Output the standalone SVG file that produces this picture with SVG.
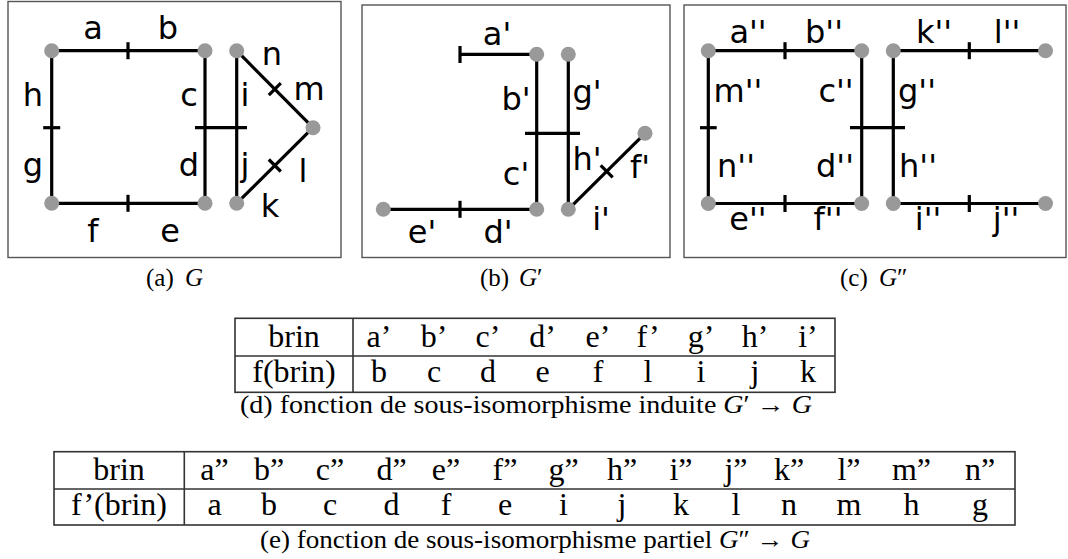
<svg xmlns="http://www.w3.org/2000/svg" width="1068" height="559" viewBox="0 0 1068 559">
<style>
.frame{fill:none;stroke:#555;stroke-width:1.4}
.e{stroke:#000;stroke-width:3.2;fill:none}
.v{fill:#999}
.lbl{font-family:"DejaVu Sans",sans-serif;font-size:32px;fill:#000;text-anchor:middle}
.tb{font-family:"Liberation Serif",serif;font-size:32px;fill:#000;text-anchor:middle}
.cap{font-family:"Liberation Serif",serif;font-size:25px;fill:#000}
.grid{fill:none;stroke:#333;stroke-width:1.6}
</style>
<rect width="1068" height="559" fill="#fff"/>

<!-- Panel (a) G -->
<rect class="frame" x="8" y="1.5" width="333" height="256"/>
<g id="connectors-a">
<line class="e" x1="51.7" y1="50.7" x2="205" y2="50.7"/>
<line class="e" x1="128" y1="42.2" x2="128" y2="59.2"/>
<line class="e" x1="51.7" y1="50.7" x2="51.7" y2="203.3"/>
<line class="e" x1="43.2" y1="127.7" x2="60.2" y2="127.7"/>
<line class="e" x1="51.7" y1="203.3" x2="205" y2="203.3"/>
<line class="e" x1="128" y1="194.8" x2="128" y2="211.8"/>
<line class="e" x1="205" y1="50.7" x2="205" y2="203.3"/>
<line class="e" x1="236.7" y1="50.7" x2="236.7" y2="203.3"/>
<line class="e" x1="195" y1="127.7" x2="247" y2="127.7"/>
<line class="e" x1="236.7" y1="50.7" x2="313" y2="127.7"/>
<line class="e" x1="268.8" y1="95.2" x2="280.8" y2="83.2"/>
<line class="e" x1="236.7" y1="203.3" x2="313" y2="127.7"/>
<line class="e" x1="268.8" y1="159.5" x2="280.8" y2="171.5"/>
</g>
<g id="a-v1"><circle class="v" cx="51.7" cy="50.7" r="7.5"/></g>
<g id="a-v2"><circle class="v" cx="205" cy="50.7" r="7.5"/></g>
<g id="a-v3"><circle class="v" cx="236.7" cy="50.7" r="7.5"/></g>
<g id="a-v4"><circle class="v" cx="313" cy="127.7" r="7.5"/></g>
<g id="a-v5"><circle class="v" cx="51.7" cy="203.3" r="7.5"/></g>
<g id="a-v6"><circle class="v" cx="205" cy="203.3" r="7.5"/></g>
<g id="a-v7"><circle class="v" cx="236.7" cy="203.3" r="7.5"/></g>
<g id="labels-a">
<text class="lbl" x="93" y="39">a</text>
<text class="lbl" x="168" y="39">b</text>
<text class="lbl" x="33" y="106">h</text>
<text class="lbl" x="189" y="106">c</text>
<text class="lbl" x="245" y="106">i</text>
<text class="lbl" x="272" y="65">n</text>
<text class="lbl" x="309" y="100">m</text>
<text class="lbl" x="33" y="176">g</text>
<text class="lbl" x="189" y="176">d</text>
<text class="lbl" x="245" y="176">j</text>
<text class="lbl" x="303" y="182">l</text>
<text class="lbl" x="270" y="217">k</text>
<text class="lbl" x="93" y="242">f</text>
<text class="lbl" x="170" y="242">e</text>
</g>

<!-- Panel (b) G' -->
<rect class="frame" x="362" y="5" width="308" height="252.5"/>
<g id="connectors-b">
<line class="e" x1="460" y1="54.3" x2="536.7" y2="54.3"/>
<line class="e" x1="460" y1="46" x2="460" y2="63"/>
<line class="e" x1="536.7" y1="54.3" x2="536.7" y2="209.3"/>
<line class="e" x1="568.3" y1="54.3" x2="568.3" y2="209.3"/>
<line class="e" x1="525" y1="133.3" x2="580" y2="133.3"/>
<line class="e" x1="383.3" y1="209.3" x2="536.7" y2="209.3"/>
<line class="e" x1="460" y1="200.8" x2="460" y2="217.8"/>
<line class="e" x1="568.3" y1="209.3" x2="645" y2="133.3"/>
<line class="e" x1="600.7" y1="165.3" x2="612.7" y2="177.3"/>
</g>
<g id="b-v1"><circle class="v" cx="536.7" cy="54.3" r="7.5"/></g>
<g id="b-v2"><circle class="v" cx="568.3" cy="54.3" r="7.5"/></g>
<g id="b-v3"><circle class="v" cx="645" cy="133.3" r="7.5"/></g>
<g id="b-v4"><circle class="v" cx="383.3" cy="209.3" r="7.5"/></g>
<g id="b-v5"><circle class="v" cx="536.7" cy="209.3" r="7.5"/></g>
<g id="b-v6"><circle class="v" cx="568.3" cy="209.3" r="7.5"/></g>
<g id="labels-b">
<text class="lbl" x="497" y="45">a'</text>
<text class="lbl" x="516" y="110">b'</text>
<text class="lbl" x="587" y="103">g'</text>
<text class="lbl" x="587" y="170">h'</text>
<text class="lbl" x="640" y="178">f'</text>
<text class="lbl" x="516" y="185">c'</text>
<text class="lbl" x="601" y="230">i'</text>
<text class="lbl" x="422" y="243">e'</text>
<text class="lbl" x="498" y="243">d'</text>
</g>

<!-- Panel (c) G'' -->
<rect class="frame" x="684" y="5" width="382" height="252.5"/>
<g id="connectors-c">
<line class="e" x1="708.3" y1="50.7" x2="861.7" y2="50.7"/>
<line class="e" x1="785" y1="42.2" x2="785" y2="59.2"/>
<line class="e" x1="893.3" y1="50.7" x2="1045.5" y2="50.7"/>
<line class="e" x1="969.3" y1="42.2" x2="969.3" y2="59.2"/>
<line class="e" x1="708.3" y1="203.5" x2="861.7" y2="203.5"/>
<line class="e" x1="785" y1="195" x2="785" y2="212"/>
<line class="e" x1="893.3" y1="203.5" x2="1045.5" y2="203.5"/>
<line class="e" x1="969.3" y1="195" x2="969.3" y2="212"/>
<line class="e" x1="708.3" y1="50.7" x2="708.3" y2="203.5"/>
<line class="e" x1="700" y1="127.7" x2="716.7" y2="127.7"/>
<line class="e" x1="861.7" y1="50.7" x2="861.7" y2="203.5"/>
<line class="e" x1="893.3" y1="50.7" x2="893.3" y2="203.5"/>
<line class="e" x1="850" y1="127.7" x2="905" y2="127.7"/>
</g>
<g id="c-v1"><circle class="v" cx="708.3" cy="50.7" r="7.5"/></g>
<g id="c-v2"><circle class="v" cx="861.7" cy="50.7" r="7.5"/></g>
<g id="c-v3"><circle class="v" cx="893.3" cy="50.7" r="7.5"/></g>
<g id="c-v4"><circle class="v" cx="1045.5" cy="50.7" r="7.5"/></g>
<g id="c-v5"><circle class="v" cx="708.3" cy="203.5" r="7.5"/></g>
<g id="c-v6"><circle class="v" cx="861.7" cy="203.5" r="7.5"/></g>
<g id="c-v7"><circle class="v" cx="893.3" cy="203.5" r="7.5"/></g>
<g id="c-v8"><circle class="v" cx="1045.5" cy="203.5" r="7.5"/></g>
<g id="labels-c">
<text class="lbl" x="748" y="43">a''</text>
<text class="lbl" x="824" y="43">b''</text>
<text class="lbl" x="934" y="43">k''</text>
<text class="lbl" x="1007" y="43">l''</text>
<text class="lbl" x="738" y="102">m''</text>
<text class="lbl" x="836" y="102">c''</text>
<text class="lbl" x="917" y="102">g''</text>
<text class="lbl" x="736" y="177">n''</text>
<text class="lbl" x="835" y="177">d''</text>
<text class="lbl" x="918" y="177">h''</text>
<text class="lbl" x="748" y="230">e''</text>
<text class="lbl" x="828" y="230">f''</text>
<text class="lbl" x="928" y="230">i''</text>
<text class="lbl" x="1006" y="230">j''</text>
</g>

<!-- Subfigure captions -->
<g id="captions-abc" class="cap">
<text x="146" y="286">(a)<tspan x="185" font-style="italic">G</tspan></text>
<text x="480" y="286">(b)<tspan x="519" font-style="italic">G</tspan>′</text>
<text x="840" y="286">(c)<tspan x="879" font-style="italic">G</tspan>″</text>
</g>

<!-- Table (d) -->
<g id="table-d">
<rect class="grid" x="235" y="318.3" width="600" height="74"/>
<line class="grid" x1="235" y1="356" x2="835" y2="356"/>
<line class="grid" x1="353" y1="318.3" x2="353" y2="392.3"/>
<g class="tb">
<text x="294" y="346.7">brin</text>
<text x="379" y="346.7">a’</text>
<text x="434" y="346.7">b’</text>
<text x="488" y="346.7">c’</text>
<text x="542.5" y="346.7">d’</text>
<text x="598" y="346.7">e’</text>
<text x="648" y="346.7">f’</text>
<text x="701" y="346.7">g’</text>
<text x="755" y="346.7">h’</text>
<text x="808" y="346.7">i’</text>
<text x="294" y="381.7">f(brin)</text>
<text x="379" y="381.7">b</text>
<text x="434" y="381.7">c</text>
<text x="488" y="381.7">d</text>
<text x="542.5" y="381.7">e</text>
<text x="598" y="381.7">f</text>
<text x="648" y="381.7">l</text>
<text x="701" y="381.7">i</text>
<text x="755" y="381.7">j</text>
<text x="808" y="381.7">k</text>
</g>
<text class="cap" x="240" y="413" textLength="572" lengthAdjust="spacingAndGlyphs">(d)  fonction de sous-isomorphisme induite <tspan font-style="italic">G</tspan>′ → <tspan font-style="italic">G</tspan></text>
</g>

<!-- Table (e) -->
<g id="table-e">
<rect class="grid" x="54" y="451.7" width="961" height="73.3"/>
<line class="grid" x1="54" y1="489" x2="1015" y2="489"/>
<line class="grid" x1="184.3" y1="451.7" x2="184.3" y2="525"/>
<g class="tb">
<text x="119" y="479.5">brin</text>
<text x="214.5" y="479.5">a”</text>
<text x="269" y="479.5">b”</text>
<text x="330" y="479.5">c”</text>
<text x="391.5" y="479.5">d”</text>
<text x="446" y="479.5">e”</text>
<text x="505" y="479.5">f”</text>
<text x="563.5" y="479.5">g”</text>
<text x="622" y="479.5">h”</text>
<text x="681" y="479.5">i”</text>
<text x="736" y="479.5">j”</text>
<text x="789" y="479.5">k”</text>
<text x="849" y="479.5">l”</text>
<text x="911.5" y="479.5">m”</text>
<text x="980" y="479.5">n”</text>
<text x="119" y="514.7">f’(brin)</text>
<text x="214.5" y="514.7">a</text>
<text x="269" y="514.7">b</text>
<text x="330" y="514.7">c</text>
<text x="391.5" y="514.7">d</text>
<text x="446" y="514.7">f</text>
<text x="505" y="514.7">e</text>
<text x="563.5" y="514.7">i</text>
<text x="622" y="514.7">j</text>
<text x="681" y="514.7">k</text>
<text x="736" y="514.7">l</text>
<text x="789" y="514.7">n</text>
<text x="849" y="514.7">m</text>
<text x="911.5" y="514.7">h</text>
<text x="980" y="514.7">g</text>
</g>
<text class="cap" x="260" y="548" font-size="26" textLength="550" lengthAdjust="spacingAndGlyphs">(e)  fonction de sous-isomorphisme partiel <tspan font-style="italic">G</tspan>″ → <tspan font-style="italic">G</tspan></text>
</g>
</svg>
